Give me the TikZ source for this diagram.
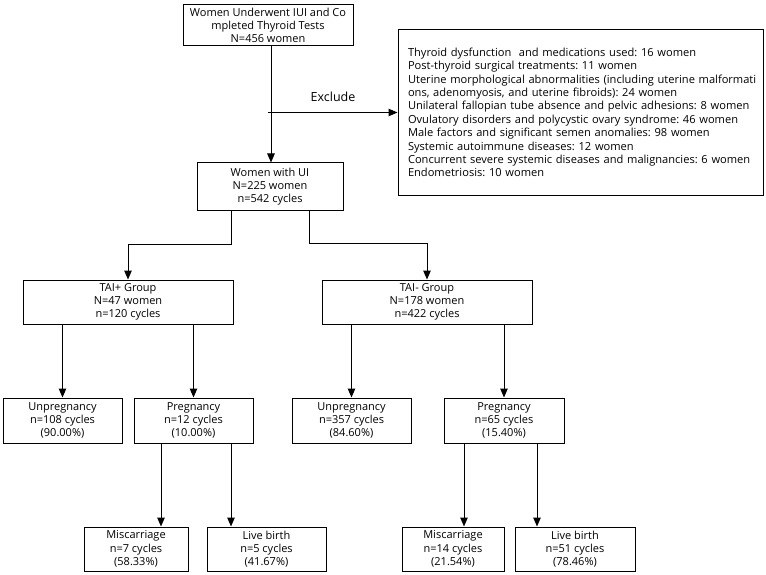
\documentclass[tikz,border=0pt]{standalone}
\usepackage{fontspec}
\setmainfont{Open Sans}
\usetikzlibrary{arrows.meta}
\newcommand\xline[1]{\mbox{#1}}
\begin{document}
\frenchspacing
\begin{tikzpicture}[x=1pt,y=-1pt,
  box/.style={draw=black,line width=1pt,inner sep=0pt,align=center,font=\fontsize{11}{13.3}\selectfont},
  arr/.style={draw=black,line width=1pt,-{Triangle[length=9pt,width=7.5pt]}},
  ln/.style={draw=black,line width=1pt}]
\useasboundingbox (0,0) rectangle (766,575);
% boxes
\node[box,minimum width=170,minimum height=41] (top) at (268,25.5) {Women Underwent IUI and Co\\mpleted Thyroid Tests\\N=456 women};
\node[box,minimum width=365,minimum height=165,align=left,text width=345,inner xsep=10pt,font=\fontsize{11.1}{13.4}\selectfont] (excl) at (580.5,112.5) {\xline{Thyroid dysfunction\ \ and medications used: 16 women}\\\xline{Post-thyroid surgical treatments: 11 women}\\\xline{Uterine morphological abnormalities (including uterine malformati}\\\xline{ons, adenomyosis, and uterine fibroids): 24 women}\\\xline{Unilateral fallopian tube absence and pelvic adhesions: 8 women}\\\xline{Ovulatory disorders and polycystic ovary syndrome: 46 women}\\\xline{Male factors and significant semen anomalies: 98 women}\\\xline{Systemic autoimmune diseases: 12 women}\\\xline{Concurrent severe systemic diseases and malignancies: 6 women}\\\xline{Endometriosis: 10 women}};
\node[box,minimum width=146,minimum height=47] (ui) at (270,186.5) {Women with UI\\N=225 women\\n=542 cycles};
\node[box,minimum width=210,minimum height=44] (tp) at (128,302) {TAI+ Group\\N=47 women\\n=120 cycles};
\node[box,minimum width=210,minimum height=44] (tm) at (427,302) {TAI- Group\\N=178 women\\n=422 cycles};
\node[box,minimum width=119,minimum height=45] (u1) at (62.5,420.5) {Unpregnancy\\n=108 cycles\\(90.00\%)};
\node[box,minimum width=119,minimum height=45] (p1) at (193.5,420.5) {Pregnancy\\n=12 cycles\\(10.00\%)};
\node[box,minimum width=119,minimum height=45] (u2) at (351.5,420.5) {Unpregnancy\\n=357 cycles\\(84.60\%)};
\node[box,minimum width=120,minimum height=45] (p2) at (504,420.5) {Pregnancy\\n=65 cycles\\(15.40\%)};
\node[box,minimum width=104,minimum height=44] (m1) at (136,549) {Miscarriage\\n=7 cycles\\(58.33\%)};
\node[box,minimum width=119,minimum height=44] (l1) at (266.5,549) {Live birth\\n=5 cycles\\(41.67\%)};
\node[box,minimum width=102,minimum height=44] (m2) at (453,549) {Miscarriage\\n=14 cycles\\(21.54\%)};
\node[box,minimum width=120,minimum height=44] (l2) at (575,549) {Live birth\\n=51 cycles\\(78.46\%)};
\node[font=\fontsize{12.5}{14}\selectfont,inner sep=0pt] (exlab) at (333,97) {Exclude};
% helper coordinates
\coordinate (c0) at (271,0);
\coordinate (j1) at (231,244);
\coordinate (j2) at (309,243);
\coordinate (c1) at (161,0);
\coordinate (c2) at (231,0);
\coordinate (c3) at (464,0);
\coordinate (c4) at (537,0);
% connectors
\draw[arr] (top.south -| c0) -- (ui.north -| c0);
\draw[arr] (top.south |- excl.west) -- (excl.west);
\draw[arr] (ui.south -| j1) -- (j1) -| (tp.north);
\draw[arr] (ui.south -| j2) -- (j2) -| (tm.north);
\draw[arr] (tp.south -| u1.north) -- (u1.north);
\draw[arr] (tp.south -| p1.north) -- (p1.north);
\draw[arr] (tm.south -| u2.north) -- (u2.north);
\draw[arr] (tm.south -| p2.north) -- (p2.north);
\draw[arr] (p1.south -| c1) -- (m1.north -| c1);
\draw[arr] (p1.south -| c2) -- (l1.north -| c2);
\draw[arr] (p2.south -| c3) -- (m2.north -| c3);
\draw[arr] (p2.south -| c4) -- (l2.north -| c4);
\end{tikzpicture}
\end{document}
